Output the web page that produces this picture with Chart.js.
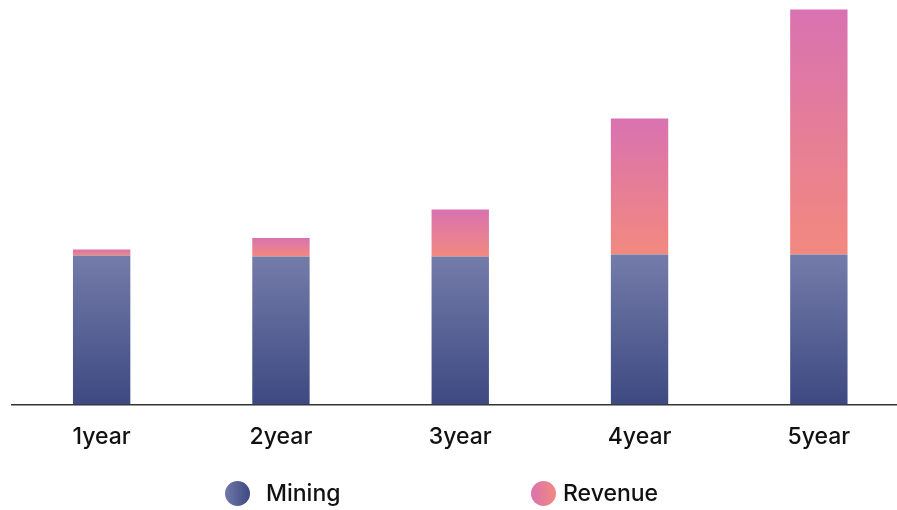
<!DOCTYPE html>
<html>
<head>
<meta charset="utf-8">
<script src="https://cdn.jsdelivr.net/npm/chart.js@4.4.0/dist/chart.umd.min.js"></script>
<style>
  html, body { margin: 0; padding: 0; background: #fff; overflow: hidden; }
  #wrap { position: relative; width: 910px; height: 510px; }
  .legend-item { position: absolute; top: 479px; height: 28px; display: flex; align-items: center; font-family: Inter, "Noto Sans", sans-serif; font-size: 23px; font-weight: 500; color: #111; }
  .dot { width: 25px; height: 25px; border-radius: 50%; display: inline-block; }
</style>
</head>
<body>
<div id="wrap">
  <canvas id="chart" width="910" height="510"></canvas>
  <div class="legend-item" id="leg-mining" style="left:225px;"><span class="dot" style="background:linear-gradient(90deg,#6f78a7,#3e4982);margin-right:16px;"></span><span>Mining</span></div>
  <div class="legend-item" id="leg-revenue" style="left:531px;"><span class="dot" style="background:linear-gradient(90deg,#da72b1,#f2897f);margin-right:7px;"></span><span>Revenue</span></div>
</div>
<script>
// datos del gráfico
const categories = ["1year", "2year", "3year", "4year", "5year"];
const miningValues = [149, 148, 148, 150, 150];
const revenueValues = [6, 18.5, 47, 136, 245];
const yMax = 400;

// gradiente vertical por segmento de barra, calculado con la escala y
function segmentGradient(ctx, baseVals, vals, bottomColor, topColor) {
  const chart = ctx.chart;
  const yScale = chart.scales.y;
  if (!chart.chartArea || !yScale) return bottomColor;
  const i = ctx.dataIndex;
  const base = baseVals ? baseVals[i] : 0;
  const y0 = yScale.getPixelForValue(base);
  const y1 = yScale.getPixelForValue(base + vals[i]);
  if (!isFinite(y0) || !isFinite(y1) || y0 === y1) return bottomColor;
  const g = chart.ctx.createLinearGradient(0, y0, 0, y1);
  g.addColorStop(0, bottomColor);
  g.addColorStop(1, topColor);
  return g;
}

const ctx = document.getElementById("chart").getContext("2d");
new Chart(ctx, {
  type: "bar",
  data: {
    labels: categories,
    datasets: [
      {
        label: "Mining",
        data: miningValues,
        backgroundColor: (c) => segmentGradient(c, null, miningValues, "#3e4982", "#737ca9")
      },
      {
        label: "Revenue",
        data: revenueValues,
        backgroundColor: (c) => segmentGradient(c, miningValues, revenueValues, "#f2897f", "#d972b1")
      }
    ]
  },
  options: {
    responsive: false,
    animation: false,
    layout: { padding: { left: 12, right: 1.5, top: 4.5, bottom: 0 } },
    plugins: {
      legend: { display: false },
      tooltip: { enabled: false }
    },
    datasets: {
      bar: { categoryPercentage: 1, barPercentage: 0.32, borderWidth: 0 }
    },
    scales: {
      x: {
        stacked: true,
        grid: { display: false, drawTicks: false },
        border: { display: true, color: "#333", width: 1.5 },
        ticks: {
          color: "#111",
          padding: 19,
          font: { family: "Inter, 'Noto Sans', sans-serif", size: 23, weight: 500 }
        },
        afterFit: (scale) => { scale.height = 105.5; }
      },
      y: {
        stacked: true,
        display: false,
        min: 0,
        max: yMax
      }
    }
  }
});
</script>
</body>
</html>
